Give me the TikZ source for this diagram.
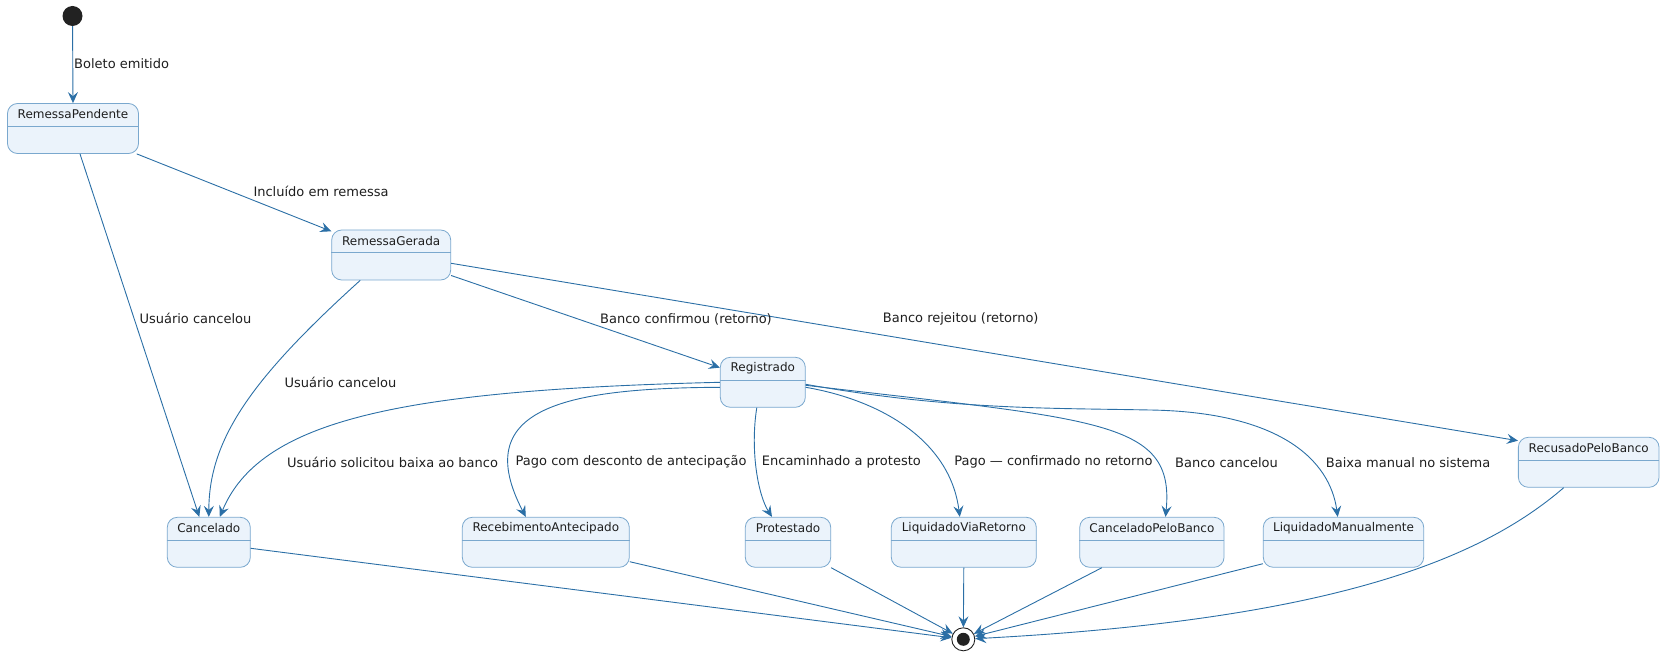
\documentclass[tikz,border=0pt]{standalone}
\usepackage{fontspec}
\setmainfont{DejaVu Sans}
\usetikzlibrary{arrows.meta}

\definecolor{arrowcol}{HTML}{2B6FA6}
\definecolor{stateline}{HTML}{7AA8CE}
\definecolor{statefill}{HTML}{EBF3FB}
\definecolor{textcol}{HTML}{1E1E1E}
\definecolor{dotcol}{HTML}{222222}

\tikzset{
  statebox/.style={draw=stateline, fill=statefill, rounded corners=10pt,
    minimum height=50pt, inner sep=0pt, line width=0.8pt},
  statename/.style={text=textcol, font=\fontsize{12}{14}\selectfont, inner sep=0pt},
  trans/.style={draw=arrowcol, line width=0.9pt,
    -{Stealth[length=11pt,width=10pt,inset=4pt]}},
  edgelabel/.style={text=textcol, font=\fontsize{13}{15}\selectfont,
    inner sep=0pt, anchor=west},
  startstate/.style={circle, fill=dotcol, minimum size=20pt, inner sep=0pt},
  endstate/.style={circle, draw=dotcol, fill=white, line width=0.9pt,
    minimum size=23pt, inner sep=0pt}
}

\begin{document}
\begin{tikzpicture}[x=1pt, y=-1pt]
  \useasboundingbox (0,0) rectangle (1674,663);

  % start and end
  \node[startstate] (inicio) at (72.5,16) {};
  \node[endstate] (fim) at (963.3,639.3) {};
  \fill[dotcol] (fim.center) circle[radius=6.5pt];

  % states
  \foreach \n/\cx/\cy/\w/\t in {
      pendente/73/128.5/131/RemessaPendente,
      gerada/391.2/255/119/RemessaGerada,
      registrado/762.8/382.3/85/Registrado,
      cancelado/208.8/542.3/83/Cancelado,
      antecipado/545.8/542.3/167/RecebimentoAntecipado,
      protestado/788/542.3/85.4/Protestado,
      viaretorno/963.8/542.3/145/LiquidadoViaRetorno,
      pelobanco/1151.9/542.3/144.3/CanceladoPeloBanco,
      manual/1343.5/542.3/160.4/LiquidadoManualmente,
      recusado/1588.7/462.3/140.7/RecusadoPeloBanco}{
    \node[statebox, minimum width=\w pt] (\n) at (\cx,\cy) {};
    \node[statename] (\n-nome) at ([yshift=-11pt]\n.north) {\t};
    \draw[stateline, line width=0.8pt] ([yshift=-23pt]\n.north west) -- ([yshift=-23pt]\n.north east);
  }

  % transitions
  \draw[trans] (inicio) -- (pendente.north);
  \draw[trans] (pendente) -- (gerada);
  \draw[trans] ([xshift=7pt]pendente.south) -- ([xshift=-9.5pt]cancelado.north);
  \draw[trans] ([xshift=-31pt]gerada.south) .. controls (250,380) and (209,440) .. (cancelado.north);
  \draw[trans] (gerada) -- (registrado);
  \draw[trans] ([yshift=-8.3pt]gerada.east) -- ([yshift=21.6pt]recusado.west);
  \draw[trans] (registrado.west) .. controls (400,390) and (260,420) .. ([xshift=11pt]cancelado.north);
  \draw[trans] ([yshift=-5pt]registrado.west) .. controls (560,388) and (470,410) .. ([xshift=-20pt]antecipado.north);
  \draw[trans] ([xshift=-6pt]registrado.south) .. controls (750,450) and (758,495) .. ([xshift=-16pt]protestado.north);
  \draw[trans] ([yshift=-5pt]registrado.east) .. controls (880,400) and (950,440) .. ([xshift=-4pt]viaretorno.north);
  \draw[trans] ([yshift=-3pt]registrado.east) .. controls (1100,420) and (1175,420) .. ([xshift=13.6pt]pelobanco.north);
  \draw[trans] ([yshift=-2pt]registrado.east) .. controls (950,410) and (1050,408) .. (1150,410)
    .. controls (1280,412) and (1330,460) .. ([xshift=-5.8pt]manual.north);

  \draw[trans] ([yshift=-6pt]cancelado.east) -- (fim);
  \draw[trans] ([yshift=-19.4pt]antecipado.east) -- (fim);
  \draw[trans] (protestado.south east) -- (fim);
  \draw[trans] (viaretorno.south) -- (fim);
  \draw[trans] ([xshift=-50pt]pelobanco.south) -- (fim);
  \draw[trans] ([yshift=-21.4pt]manual.west) -- (fim);
  \draw[trans] ([xshift=-25pt]recusado.south) .. controls (1480,560) and (1330,620) .. (fim);

  % labels
  \node[edgelabel] (l-emitido) at (74,64) {Boleto emitido};
  \node[edgelabel] (l-incluido) at (253.3,191.7) {Incluído em remessa};
  \node[edgelabel] (l-cancelou1) at (139.3,318.3) {Usuário cancelou};
  \node[edgelabel] (l-cancelou2) at (284.3,382.5) {Usuário cancelou};
  \node[edgelabel] (l-confirmou) at (600,319) {Banco confirmou (retorno)};
  \node[edgelabel] (l-rejeitou) at (882.7,319) {Banco rejeitou (retorno)};
  \node[edgelabel] (l-baixa) at (286.9,462.3) {Usuário solicitou baixa ao banco};
  \node[edgelabel] (l-antecipacao) at (515.5,462.3) {Pago com desconto de antecipação};
  \node[edgelabel] (l-protesto) at (761.7,462.3) {Encaminhado a protesto};
  \node[edgelabel] (l-retorno) at (954.2,462.3) {Pago — confirmado no retorno};
  \node[edgelabel] (l-pelobanco) at (1175,462.3) {Banco cancelou};
  \node[edgelabel] (l-manual) at (1325.7,462.3) {Baixa manual no sistema};
\end{tikzpicture}
\end{document}
